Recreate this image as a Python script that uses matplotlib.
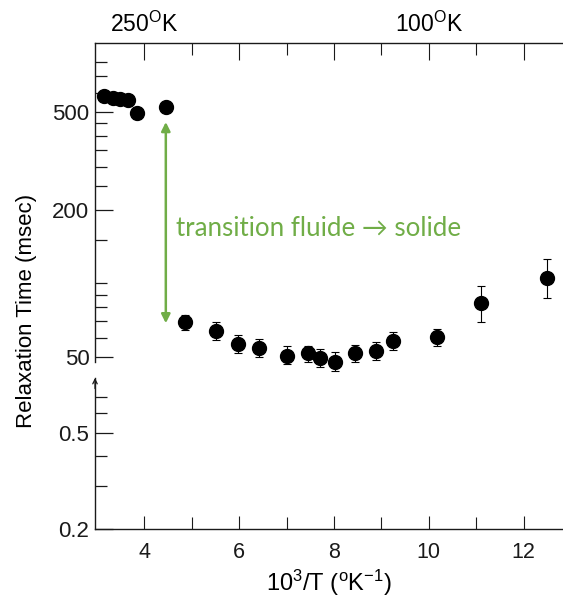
"""
Relaxation time vs 1000/T, scanned chart with a broken log axis
"""

import matplotlib
matplotlib.use("Agg")
import matplotlib.pyplot as plt
from matplotlib.ticker import NullFormatter

plt.rcParams['font.family'] = 'Liberation Sans'
plt.rcParams['mathtext.fontset'] = 'custom'
plt.rcParams['mathtext.rm'] = 'Liberation Sans'
plt.rcParams['mathtext.it'] = 'Liberation Sans'
plt.rcParams['mathtext.default'] = 'regular'

# Data: x = 10^3/T, y = relaxation time (msec)
inv_temp = [3.15, 3.33, 3.48, 3.65, 3.84, 4.45, 4.86, 5.51, 5.98, 6.42,
            7.00, 7.45, 7.70, 8.03, 8.44, 8.89, 9.24, 10.18, 11.10, 12.50]
relax_ms = [583, 572, 566, 560, 497, 526, 69.5, 64.2, 56.8, 54.4,
            50.8, 51.9, 49.5, 48.0, 51.9, 53.2, 58.5, 60.4, 83.5, 105.6]
err_low = [12, 12, 12, 12, 30, 12, 4.8, 5.2, 4.6, 4.4,
           4.1, 3.9, 4.0, 4.1, 4.3, 4.4, 4.8, 4.9, 14.0, 18.6]
err_high = [12, 12, 12, 12, 10, 12, 5.1, 5.7, 4.6, 4.8,
            4.5, 3.9, 4.4, 4.5, 4.3, 4.4, 4.8, 4.9, 14.0, 20.0]

# axis ticks
upper_major = [50, 200, 500]
upper_minor = [60, 70, 80, 90, 100, 150, 250, 300, 350, 400, 450, 600, 700, 800]
lower_major = [0.2, 0.5]
lower_minor = [0.3, 0.4, 0.6, 0.7]
x_major = [4, 6, 8, 10, 12]
x_minor = [5, 7, 9, 11]
top_major = [4, 10]
top_minor = [5, 6, 7, 8, 9, 11, 12]
top_labels = ['250$^{O}$K', '100$^{O}$K']

# transition arrow (msec) and label
transition_x = 4.45
transition_top = 456
transition_bottom = 68.8
transition_text = 'transition fluide \u2192 solide'
green = '#70AD47'

W, H = 563, 601
fig = plt.figure(figsize=(W / 100, H / 100), dpi=100)

left = 95 / W
width = 1 - left
ax = fig.add_axes([left, 1 - 362 / H, width, (362 - 42.5) / H])
ax_low = fig.add_axes([left, 1 - 529 / H, width, (529 - 378) / H], sharex=ax)

xlim = (2.956, 12.83)
spine_col = '#1a1a1a'

# ---- upper part (msec) ----
ax.set_yscale('log')
ax.set_ylim(47.8, 963)
ax.set_xlim(*xlim)
for s in ['right', 'bottom']:
    ax.spines[s].set_visible(False)
for s in ['left', 'top']:
    ax.spines[s].set_color(spine_col)
    ax.spines[s].set_linewidth(1.0)

ax.set_yticks(upper_major, labels=[str(v) for v in upper_major])
ax.set_yticks(upper_minor, minor=True)
ax.yaxis.set_minor_formatter(NullFormatter())
ax.tick_params(axis='y', which='major', direction='in', length=13, width=0.9,
               labelsize=16, pad=4, colors=spine_col)
ax.tick_params(axis='y', which='minor', direction='in', length=8.5, width=0.9,
               colors=spine_col)

ax.set_xticks(top_major)
ax.set_xticks(top_minor, minor=True)
ax.tick_params(axis='x', which='both', bottom=False, top=True, labelbottom=False,
               labeltop=False, direction='in', width=0.8, colors=spine_col)
ax.tick_params(axis='x', which='major', length=12)
ax.tick_params(axis='x', which='minor', length=8.5)
for xv, lab in zip(top_major, top_labels):
    ax.annotate(lab, xy=(xv, 1), xycoords=('data', 'axes fraction'),
                xytext=(0, 13), textcoords='offset points',
                ha='center', va='center', fontsize=16.5, annotation_clip=False)

eb = ax.errorbar(inv_temp, relax_ms, yerr=[err_low, err_high], fmt='o',
                 color='black', ms=10, elinewidth=0.8, capsize=3, capthick=0.8)
for art in eb.get_children():
    art.set_clip_on(False)

# green double arrow and text
ax.annotate('', xy=(transition_x, transition_bottom), xytext=(transition_x, transition_top),
            arrowprops=dict(arrowstyle='<|-|>', color=green, lw=1.8,
                            mutation_scale=13, shrinkA=0, shrinkB=0))
fig.text(176 / W, 1 - 228 / H, transition_text, color=green, fontsize=18.6,
         ha='left', va='center', family=['Lato', 'DejaVu Sans'])

# ---- lower part ----
ax_low.set_yscale('log')
ax_low.set_ylim(0.2, 0.84)
for s in ['right', 'top']:
    ax_low.spines[s].set_visible(False)
for s in ['left', 'bottom']:
    ax_low.spines[s].set_color(spine_col)
    ax_low.spines[s].set_linewidth(1.0)
ax_low.set_yticks(lower_major, labels=[str(v) for v in lower_major])
ax_low.set_yticks(lower_minor, minor=True)
ax_low.yaxis.set_minor_formatter(NullFormatter())
ax_low.tick_params(axis='y', which='major', direction='in', length=13, width=0.9,
                   labelsize=16, pad=4, colors=spine_col)
ax_low.tick_params(axis='y', which='minor', direction='in', length=8.5, width=0.9,
                   colors=spine_col)

ax_low.set_xticks(x_major, labels=[str(v) for v in x_major])
ax_low.set_xticks(x_minor, minor=True)
ax_low.tick_params(axis='x', which='major', direction='in', length=9.5, width=0.8,
                   labelsize=15.5, pad=9, colors=spine_col)
ax_low.tick_params(axis='x', which='minor', direction='in', length=8.5, width=0.8,
                   colors=spine_col)
ax_low.set_xlim(*xlim)
ax_low.annotate('', xy=(0, 1.0), xycoords='axes fraction', xytext=(0, 0.93),
                arrowprops=dict(arrowstyle='->', color=spine_col, lw=0.9,
                                mutation_scale=8, shrinkA=0, shrinkB=0))

ax_low.set_xlabel('10$^3$/T ($^{o}$K$^{-1}$)', fontsize=17, labelpad=4)
fig.text(27 / W, 1 - 311 / H, 'Relaxation Time (msec)', rotation=90,
         ha='center', va='center', fontsize=16)

fig.savefig('out.png', dpi=100)
